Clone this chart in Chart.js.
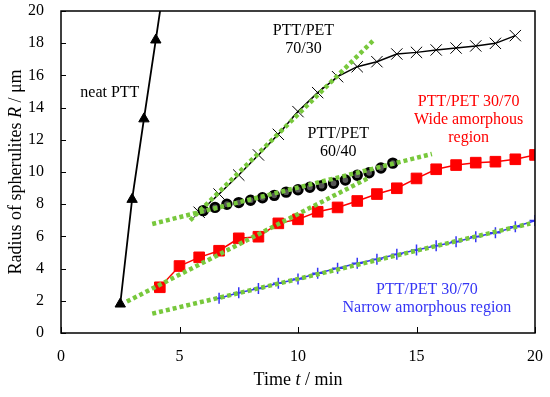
<!DOCTYPE html>
<html><head><meta charset="utf-8">
<script src="https://cdn.jsdelivr.net/npm/chart.js@4/dist/chart.umd.min.js"></script>
<style>html,body{margin:0;padding:0;background:#fff}</style>
</head><body>
<canvas id="c" width="550" height="397"></canvas>
<script>
// ---- data ----
const xTicks = [0, 5, 10, 15, 20];
const yTicks = [0, 2, 4, 6, 8, 10, 12, 14, 16, 18, 20];

const neatT = [2.5, 3.0, 3.5, 4.0, 4.5];
const neatR = [1.8, 8.3, 13.3, 18.2, 23.2];

const t7030 = [5.83, 6.67, 7.5, 8.33, 9.17, 10.0, 10.83, 11.67, 12.5, 13.33, 14.17, 15.0, 15.83, 16.67, 17.5, 18.33, 19.17];
const r7030 = [7.5, 8.63, 9.81, 11.06, 12.34, 13.75, 14.93, 15.92, 16.54, 16.85, 17.33, 17.43, 17.58, 17.7, 17.83, 17.99, 18.47];

const t6040 = [6.0, 6.5, 7.0, 7.5, 8.0, 8.5, 9.0, 9.5, 10.0, 10.5, 11.0, 11.5, 12.0, 12.5, 13.0, 13.5, 14.0];
const r6040 = [7.6, 7.8, 8.0, 8.1, 8.25, 8.4, 8.55, 8.75, 8.9, 9.05, 9.15, 9.3, 9.5, 9.8, 9.95, 10.25, 10.55];

const tWide = [4.17, 5.0, 5.83, 6.67, 7.5, 8.33, 9.17, 10.0, 10.83, 11.67, 12.5, 13.33, 14.17, 15.0, 15.83, 16.67, 17.5, 18.33, 19.17, 20.0];
const rWide = [2.84, 4.16, 4.7, 5.11, 5.88, 5.98, 6.81, 7.06, 7.53, 7.8, 8.2, 8.63, 8.99, 9.6, 10.17, 10.43, 10.58, 10.64, 10.79, 11.06];

const tNarrow = [6.67, 7.5, 8.33, 9.17, 10.0, 10.83, 11.67, 12.5, 13.33, 14.17, 15.0, 15.83, 16.67, 17.5, 18.33, 19.17, 20.0];
const rNarrow = [2.16, 2.5, 2.77, 3.09, 3.35, 3.71, 4.02, 4.33, 4.58, 4.89, 5.16, 5.42, 5.67, 5.98, 6.23, 6.6, 6.98];

// linear fits (end points)
const fit7030T = [5.45, 13.2];
const fit7030R = [7.0, 18.2];
const fit6040T = [3.85, 15.65];
const fit6040R = [6.77, 11.12];
const fitWideT = [2.78, 13.0];
const fitWideR = [1.95, 9.65];
const fitNarrowT = [3.85, 19.8];
const fitNarrowR = [1.2, 6.8];

// ---- helpers ----
const pts = (xs, ys) => xs.map((x, i) => ({x, y: ys[i]}));
const FONT = '"Liberation Serif", "Times New Roman", serif';
const GREEN = '#78c83c';
const RED = '#ff0000';
const BLUE = '#3535f5';

Chart.defaults.font.family = FONT;
Chart.defaults.font.size = 16;
Chart.defaults.color = '#000';

function fitSet(xs, ys) {
  return {data: pts(xs, ys), showLine: true, borderColor: GREEN, borderWidth: 4.5,
    borderDash: [4, 3], pointRadius: 0, order: 0, borderCapStyle: 'butt'};
}

const annotations = [
  {t: 2.06, r: 14.9, lines: ['neat PTT'], color: '#000'},
  {t: 10.23, r: 18.76, lines: ['PTT/PET', '70/30'], color: '#000'},
  {t: 11.7, r: 12.36, lines: ['PTT/PET', '60/40'], color: '#000'},
  {t: 17.2, r: 14.35, lines: ['PTT/PET 30/70', 'Wide amorphous', 'region'], color: RED},
  {t: 15.44, r: 2.67, lines: ['PTT/PET 30/70', 'Narrow amorphous region'], color: BLUE}
];

function drawMixed(ctx, segs, size) {
  let total = 0;
  segs.forEach(s => { ctx.font = (s.i ? 'italic ' : '') + size + 'px ' + FONT; s.w = ctx.measureText(s.t).width; total += s.w; });
  let x = -total / 2;
  segs.forEach(s => { ctx.font = (s.i ? 'italic ' : '') + size + 'px ' + FONT; ctx.fillText(s.t, x, 0); x += s.w; });
}

const decor = {
  id: 'decor',
  afterDraw(chart) {
    const ctx = chart.ctx, a = chart.chartArea;
    const xs = chart.scales.x, ys = chart.scales.y;
    ctx.save();
    ctx.strokeStyle = '#000';
    ctx.lineWidth = 1.5;
    ctx.strokeRect(a.left, a.top, a.right - a.left, a.bottom - a.top);
    ctx.lineWidth = 1;
    ctx.beginPath();
    yTicks.forEach(v => { const y = Math.round(ys.getPixelForValue(v)) + 0.5; ctx.moveTo(a.left, y); ctx.lineTo(a.left + 5, y); });
    xTicks.forEach(v => { const x = Math.round(xs.getPixelForValue(v)) + 0.5; ctx.moveTo(x, a.bottom); ctx.lineTo(x, a.bottom - 6); });
    ctx.stroke();

    ctx.textAlign = 'center';
    ctx.textBaseline = 'middle';
    ctx.font = '16px ' + FONT;
    annotations.forEach(an => {
      const cx = xs.getPixelForValue(an.t), cy = ys.getPixelForValue(an.r);
      ctx.fillStyle = an.color;
      an.lines.forEach((l, i) => ctx.fillText(l, cx, cy + i * 18));
    });

    ctx.fillStyle = '#000';
    ctx.textAlign = 'left';
    ctx.save();
    ctx.translate((a.left + a.right) / 2, 380);
    drawMixed(ctx, [{t: 'Time '}, {t: 't', i: true}, {t: ' / min'}], 18);
    ctx.restore();
    ctx.save();
    ctx.translate(16, (a.top + a.bottom) / 2);
    ctx.rotate(-Math.PI / 2);
    drawMixed(ctx, [{t: 'Radius of spherulites '}, {t: 'R', i: true}, {t: ' / μm'}], 18);
    ctx.restore();
    ctx.restore();
  }
};

new Chart(document.getElementById('c'), {
  type: 'scatter',
  data: {
    datasets: [
      fitSet(fit7030T, fit7030R),
      fitSet(fit6040T, fit6040R),
      fitSet(fitWideT, fitWideR),
      fitSet(fitNarrowT, fitNarrowR),
      {data: pts(neatT, neatR), showLine: true, borderColor: '#000', backgroundColor: '#000', borderWidth: 1.8,
        pointStyle: 'triangle', pointRadius: 6, pointBorderWidth: 1, order: 1},
      {data: pts(t7030, r7030), showLine: true, borderColor: '#000', borderWidth: 1.5,
        pointStyle: 'crossRot', pointRadius: 8, pointBorderWidth: 1, order: 1},
      {data: pts(t6040, r6040), showLine: false, borderColor: '#000', pointBackgroundColor: '#555',
        pointStyle: 'circle', pointRadius: 4.3, pointBorderWidth: 2.8, order: 1},
      {data: pts(tWide, rWide), showLine: true, borderColor: RED, backgroundColor: RED, borderWidth: 1.5,
        pointStyle: 'rect', pointRadius: 7.5, pointBorderWidth: 1, order: 1},
      {data: pts(tNarrow, rNarrow), showLine: true, borderColor: BLUE, borderWidth: 1.5,
        pointStyle: 'cross', pointRadius: 5.5, pointBorderWidth: 1.5, order: 1}
    ]
  },
  options: {
    responsive: false,
    animation: false,
    devicePixelRatio: 1,
    layout: {padding: {top: 11, right: 15, left: 0, bottom: 0}},
    plugins: {legend: {display: false}, tooltip: {enabled: false}},
    scales: {
      x: {type: 'linear', min: 0, max: 20,
        afterBuildTicks: s => { s.ticks = xTicks.map(v => ({value: v})); },
        afterFit: s => { s.height = 64; s.paddingLeft = 0; s.paddingRight = 0; },
        grid: {display: false, drawTicks: false}, border: {display: false},
        ticks: {padding: 14, font: {size: 16}}},
      y: {type: 'linear', min: 0, max: 20,
        afterBuildTicks: s => { s.ticks = yTicks.map(v => ({value: v})); },
        afterFit: s => { s.width = 61; s.paddingTop = 0; s.paddingBottom = 0; },
        grid: {display: false, drawTicks: false}, border: {display: false},
        ticks: {padding: 17, font: {size: 16}}}
    }
  },
  plugins: [decor]
});
</script>
</body></html>
